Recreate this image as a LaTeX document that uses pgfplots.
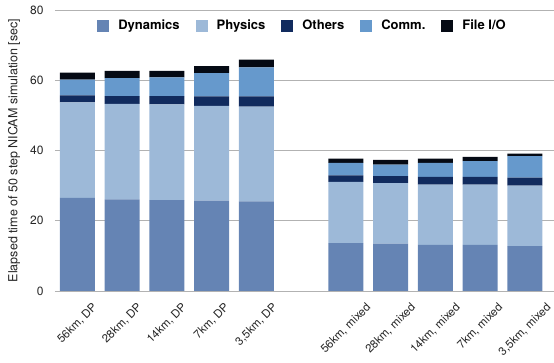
\documentclass[border=0pt]{standalone}
\usepackage{graphicx}
\usepackage{pgfplots}
\usepackage{pgfplotstable}
\pgfplotsset{compat=1.18}
\usepackage{fontspec}
\setmainfont{TeX Gyre Heros}
\definecolor{cDyn}{HTML}{6584B4}
\definecolor{cPhy}{HTML}{9DB9D8}
\definecolor{cOth}{HTML}{112B5E}
\definecolor{cCom}{HTML}{6699CC}
\definecolor{cIO}{HTML}{050A14}
\pgfplotsset{mylegimg/.style={legend image code/.code={\fill[##1] (0bp,-6bp) rectangle (12bp,6bp);}}}
\newcommand{\rl}[1]{\rotatebox{45}{#1}}
\pgfplotstableread{
x dyn phy oth com io
0 26.5 27.2 2.0 4.5 2.0
1 26.1 27.2 2.2 5.1 2.1
2 25.9 27.2 2.4 5.3 1.9
3 25.7 27.0 2.7 6.6 2.0
4 25.5 27.0 2.9 8.3 2.2
6 13.6 17.5 1.8 3.6 1.2
7 13.5 17.2 2.0 3.3 1.3
8 13.1 17.2 2.2 4.0 1.2
9 13.1 17.2 2.2 4.5 1.2
10 12.8 17.2 2.3 6.1 0.7
}\data
\begin{document}
\begin{tikzpicture}
\begin{axis}[
  scale only axis, width=499bp, height=281bp,
  ybar stacked, bar width=35bp,
  xmin=-0.5, xmax=10.65, ymin=0, ymax=80,
  ytick={0,20,40,60,80},
  xtick={0,1,2,3,4,6,7,8,9,10},
  xticklabels={{\rl{56km, DP}},{\rl{28km, DP}},{\rl{14km, DP}},{\rl{7km, DP}},{\rl{3,5km, DP}},{\rl{56km, mixed}},{\rl{28km, mixed}},{\rl{14km, mixed}},{\rl{7km, mixed}},{\rl{3,5km, mixed}}},
  axis line style={draw=none},
  major tick length=0pt,
  ymajorgrids, grid style={color=black!30, line width=0.8bp},
  /pgf/number format/assume math mode=true,
  yticklabel style={font=\fontsize{12bp}{14bp}\selectfont, text=black!85, anchor=east, xshift=-8bp},
  xticklabel style={font=\fontsize{11.5bp}{13bp}\selectfont, text=black!85, anchor=north, inner sep=0pt, yshift=-11bp},
  ylabel={Elapsed time of 50 step NICAM simulation [sec]},
  ylabel style={at={(axis description cs:-0.082,0.5)}, anchor=center, font=\fontsize{12.5bp}{14bp}\selectfont, text=black!85},
  every axis plot post/.append style={mylegimg},
  legend style={at={(0.494,0.944)}, anchor=center, draw=none, fill=none,
    legend columns=-1, font=\bfseries\fontsize{13bp}{15bp}\selectfont,
    nodes={inner sep=0pt},
    /tikz/every odd column/.append style={column sep=9bp},
    /tikz/every even column/.append style={column sep=16bp}},
]
\addplot[fill=cDyn, draw=none] table[x=x, y=dyn]{\data};
\addplot[fill=cPhy, draw=none] table[x=x, y=phy]{\data};
\addplot[fill=cOth, draw=none] table[x=x, y=oth]{\data};
\addplot[fill=cCom, draw=none] table[x=x, y=com]{\data};
\addplot[fill=cIO, draw=none] table[x=x, y=io]{\data};
\legend{Dynamics, Physics, Others, Comm., File I/O}
\end{axis}
\pgfresetboundingbox
\path[use as bounding box] ([xshift=-55bp,yshift=-72bp]current axis.south west) rectangle ([yshift=10bp]current axis.north east);
\end{tikzpicture}
\end{document}
